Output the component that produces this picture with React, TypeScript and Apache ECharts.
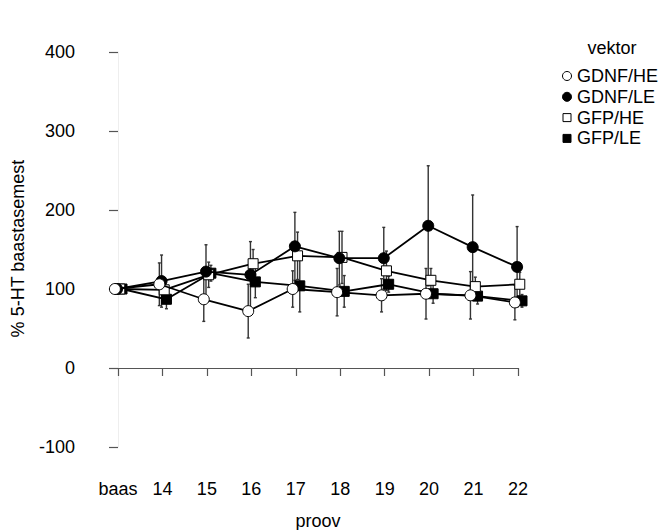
import React, { useEffect, useRef } from "react";
import * as echarts from "echarts";

const categories = ["baas", "14", "15", "16", "17", "18", "19", "20", "21", "22"];
const yTicks = [-100, 0, 100, 200, 300, 400];

const gdnfHE = [100, 106, 87, 72, 100, 96, 92, 94, 92, 83];
const gdnfHEerr = [0, 27, 28, 34, 23, 30, 21, 32, 30, 22];
const gdnfLE = [100, 110, 122, 118, 154, 139, 139, 180, 153, 128];
const gdnfLEerr = [0, 33, 34, 42, 43, 34, 39, 76, 66, 51];
const gfpHE = [100, 99, 118, 132, 142, 140, 123, 111, 103, 106];
const gfpHEerr = [0, 15, 16, 18, 30, 33, 25, 15, 12, 15];
const gfpLE = [100, 87, 120, 109, 104, 97, 106, 94, 91, 85];
const gfpLEerr = [0, 12, 10, 20, 33, 20, 10, 12, 10, 8];

const seriesNames = ["GDNF/HE", "GDNF/LE", "GFP/HE", "GFP/LE"];
const legendTitle = "vektor";
const xTitle = "proov";
const yTitle = "% 5-HT baastasemest";

const FONT = "Arial, 'Liberation Sans', Helvetica, sans-serif";
const FS = 18;

export default function App() {
  const ref = useRef<HTMLDivElement>(null);
  useEffect(() => {
    if (!ref.current) return;
    const chart = echarts.init(ref.current, null, { renderer: "svg" });

    const defs = [
      { name: seriesNames[0], vals: gdnfHE, errs: gdnfHEerr, shift: -0.07, symbol: "circle", size: 11, fill: "#fff", z: 8 },
      { name: seriesNames[1], vals: gdnfLE, errs: gdnfLEerr, shift: -0.02, symbol: "circle", size: 11, fill: "#000", z: 7 },
      { name: seriesNames[2], vals: gfpHE, errs: gfpHEerr, shift: 0.04, symbol: "rect", size: 10, fill: "#fff", z: 6 },
      { name: seriesNames[3], vals: gfpLE, errs: gfpLEerr, shift: 0.09, symbol: "rect", size: 10, fill: "#000", z: 5 },
    ];

    const errSeries = defs.map((d) => ({
      type: "custom",
      name: d.name + " err",
      z: 2,
      silent: true,
      data: d.vals.map((v, i) => [i + d.shift, v - d.errs[i], v + d.errs[i]]),
      renderItem: (params: any, api: any) => {
        const x = api.value(0);
        const lo = api.coord([x, api.value(1)]);
        const hi = api.coord([x, api.value(2)]);
        const style = { stroke: "#333", lineWidth: 1.4 };
        return {
          type: "group",
          children: [
            { type: "line", shape: { x1: lo[0], y1: lo[1], x2: hi[0], y2: hi[1] }, style },
            { type: "line", shape: { x1: hi[0] - 1.5, y1: hi[1], x2: hi[0] + 1.5, y2: hi[1] }, style },
            { type: "line", shape: { x1: lo[0] - 1.5, y1: lo[1], x2: lo[0] + 1.5, y2: lo[1] }, style },
          ],
        };
      },
    }));

    const lineSeries = defs.map((d) => ({
      type: "line",
      name: d.name,
      z: d.z,
      clip: false,
      data: d.vals.map((v, i) => [i + d.shift, v]),
      symbol: d.symbol,
      symbolSize: d.size,
      showAllSymbol: true,
      lineStyle: { color: "#000", width: 1.8 },
      itemStyle: { color: d.fill, borderColor: "#000", borderWidth: 1 },
    }));

    const legendGraphics: any[] = [
      {
        type: "text",
        x: 612,
        y: 48,
        style: { text: legendTitle, font: `${FS}px ${FONT}`, fill: "#000", textAlign: "center", textVerticalAlign: "middle" },
      },
    ];
    defs.forEach((d, i) => {
      const y = 76 + i * 20.8;
      if (d.symbol === "circle") {
        legendGraphics.push({
          type: "circle",
          shape: { cx: 567, cy: y, r: 4.5 },
          style: { fill: d.fill, stroke: "#000", lineWidth: 1 },
        });
      } else {
        legendGraphics.push({
          type: "rect",
          shape: { x: 563, y: y - 4, width: 8, height: 8 },
          style: { fill: d.fill, stroke: "#000", lineWidth: 1 },
        });
      }
      legendGraphics.push({
        type: "text",
        x: 577,
        y,
        style: { text: d.name, font: `${FS}px ${FONT}`, fill: "#000", textAlign: "left", textVerticalAlign: "middle" },
      });
    });

    chart.setOption({
      animation: false,
      backgroundColor: "#fff",
      grid: { left: 118, right: 147, top: 52, bottom: 83 },
      xAxis: {
        type: "value",
        min: 0,
        max: categories.length - 1,
        interval: 1,
        offset: 18,
        splitLine: { show: false },
        axisLine: { show: true, lineStyle: { color: "#555", width: 1.2 } },
        axisTick: { show: true, inside: false, length: 8, lineStyle: { color: "#555", width: 1.2 } },
        axisLabel: {
          margin: 15,
          color: "#000",
          fontSize: FS,
          fontFamily: FONT,
          hideOverlap: false,
          showMinLabel: true,
          showMaxLabel: true,
          formatter: (v: number) => categories[Math.round(v)] ?? "",
        },
      },
      yAxis: {
        type: "value",
        min: yTicks[0],
        max: yTicks[yTicks.length - 1],
        interval: 100,
        offset: 26,
        splitLine: { show: false },
        axisLine: { show: true, lineStyle: { color: "#eeeeee", width: 1 } },
        axisTick: { show: true, inside: false, length: 9, lineStyle: { color: "#555", width: 1.2 } },
        axisLabel: { margin: 17, color: "#000", fontSize: FS, fontFamily: FONT },
      },
      series: [...errSeries, ...lineSeries],
      graphic: [
        ...legendGraphics,
        {
          type: "text",
          x: 18,
          y: 248.5,
          rotation: Math.PI / 2,
          style: { text: yTitle, font: `${FS}px ${FONT}`, fill: "#000", textAlign: "center", textVerticalAlign: "middle" },
        },
        {
          type: "text",
          x: 318,
          y: 521,
          style: { text: xTitle, font: `${FS}px ${FONT}`, fill: "#000", textAlign: "center", textVerticalAlign: "middle" },
        },
      ],
    });
    return () => chart.dispose();
  }, []);
  return <div ref={ref} style={{ width: 665, height: 530, position: "absolute", left: 0, top: 0 }} />;
}
